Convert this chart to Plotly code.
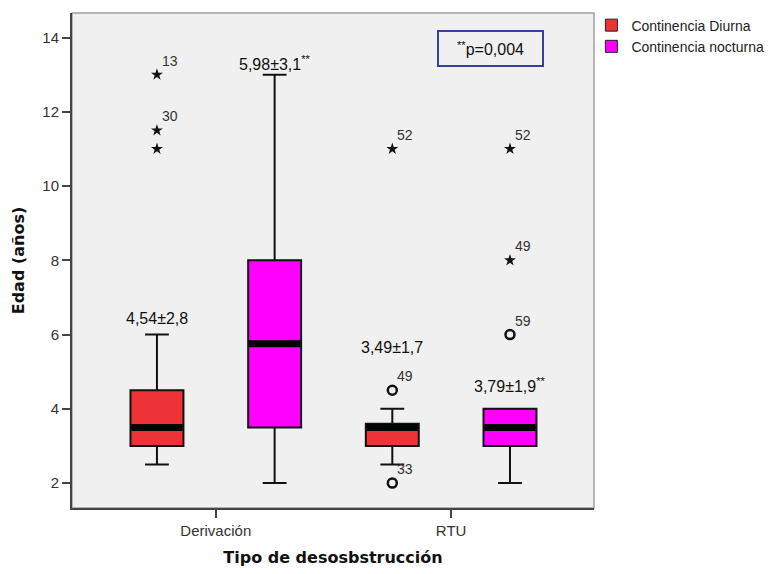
import plotly.graph_objects as go

# Categories and series
groups = ["Derivación", "RTU"]
series = ["Continencia Diurna", "Continencia nocturna"]
series_colors = ["#EE3338", "#FF00FF"]
series_offset = [-0.25, 0.25]

# Box statistics, one value per group (Derivación, RTU)
diurna_q1 = [3.0, 3.0]
diurna_median = [3.5, 3.5]
diurna_q3 = [4.5, 3.6]
diurna_low = [2.5, 2.5]
diurna_high = [6.0, 4.0]

nocturna_q1 = [3.5, 3.0]
nocturna_median = [5.75, 3.5]
nocturna_q3 = [8.0, 4.0]
nocturna_low = [2.0, 2.0]
nocturna_high = [13.0, 4.0]

# Outlying cases: group index, series index, age, kind, case number
out_group = [0, 0, 0, 1, 1, 1, 1, 1, 1]
out_series = [0, 0, 0, 0, 0, 0, 1, 1, 1]
out_value = [13.0, 11.5, 11.0, 11.0, 4.5, 2.0, 11.0, 8.0, 6.0]
out_kind = ["extreme", "extreme", "extreme", "extreme", "outlier", "outlier",
            "extreme", "extreme", "outlier"]
out_case = ["13", "30", "", "52", "49", "33", "52", "49", "59"]

# Mean ± SD labels and their heights
diurna_label = ["4,54±2,8", "3,49±1,7"]
diurna_label_y = [6.44, 5.66]
nocturna_label = ["5,98±3,1<sup>**</sup>", "3,79±1,9<sup>**</sup>"]
nocturna_label_y = [13.32, 4.63]

y_ticks = [2, 4, 6, 8, 10, 12, 14]

box_width = 0.225
half = box_width / 2

stats = [
    (diurna_q1, diurna_median, diurna_q3, diurna_low, diurna_high),
    (nocturna_q1, nocturna_median, nocturna_q3, nocturna_low, nocturna_high),
]

fig = go.Figure()

for s, (q1, med, q3, lo, hi) in enumerate(stats):
    pos = [g + series_offset[s] for g in range(len(groups))]
    fig.add_trace(go.Box(
        x=pos, q1=q1, median=med, q3=q3, lowerfence=lo, upperfence=hi,
        width=box_width, whiskerwidth=0.45,
        fillcolor=series_colors[s],
        line=dict(color="#111111", width=2),
        boxpoints=False, showlegend=False, hoverinfo="skip",
    ))
    # thick median bars
    for p, m in zip(pos, med):
        fig.add_trace(go.Scatter(
            x=[p - half + 0.004, p + half - 0.004], y=[m, m], mode="lines",
            line=dict(color="#000000", width=7),
            showlegend=False, hoverinfo="skip",
        ))

# outliers (circles) and extreme values (stars)
for kind, symbol, size, lw in [("outlier", "circle-open", 9, 2.5),
                               ("extreme", "star", 9, 0)]:
    xs, ys = [], []
    for g, s, v, k in zip(out_group, out_series, out_value, out_kind):
        if k == kind:
            xs.append(g + series_offset[s])
            ys.append(v)
    fig.add_trace(go.Scatter(
        x=xs, y=ys, mode="markers",
        marker=dict(symbol=symbol, size=size, color="#111111",
                    line=dict(color="#111111", width=lw)),
        showlegend=False, hoverinfo="skip",
    ))

# case numbers next to outlying points
for g, s, v, c in zip(out_group, out_series, out_value, out_case):
    if c:
        fig.add_annotation(
            x=g + series_offset[s], y=v, text=c, showarrow=False,
            xshift=13, yshift=14,
            font=dict(family="Liberation Sans, Arial", size=14, color="#333333"),
        )

# mean ± SD labels
for s, (labels, ys) in enumerate([(diurna_label, diurna_label_y),
                                  (nocturna_label, nocturna_label_y)]):
    for g, (t, yv) in enumerate(zip(labels, ys)):
        fig.add_annotation(
            x=g + series_offset[s], y=yv, text=t, showarrow=False,
            font=dict(family="Liberation Sans, Arial", size=16, color="#111111"),
        )

# p-value box
fig.add_annotation(
    xref="paper", yref="paper", x=0.8017, y=0.928,
    xanchor="center", yanchor="middle",
    text="<sup>**</sup>p=0,004", showarrow=False,
    width=101, height=31, borderpad=1,
    bordercolor="#3C3C9C", borderwidth=2,
    font=dict(family="Liberation Sans, Arial", size=16, color="#111111"),
)

# legend entries
for name, col in zip(series, series_colors):
    fig.add_trace(go.Scatter(
        x=[None], y=[None], mode="markers", name=name,
        marker=dict(symbol="square", size=12, color=col,
                    line=dict(color="#222222", width=1)),
    ))

# light frame around the plotting area
fig.add_shape(type="rect", xref="paper", yref="paper", x0=0, x1=1, y0=0, y1=1,
              line=dict(color="#A0A0A0", width=1.5), layer="below")

fig.update_layout(
    width=774, height=574,
    margin=dict(l=72, r=180, t=13, b=66, autoexpand=False),
    paper_bgcolor="#FFFFFF",
    plot_bgcolor="#F0F0F0",
    font=dict(family="Liberation Sans, Arial", color="#333333"),
    legend=dict(x=0.995, xanchor="left", y=1.007, yanchor="top",
                bgcolor="rgba(0,0,0,0)",
                font=dict(family="Liberation Sans, Arial", size=14, color="#222222")),
)

fig.update_xaxes(
    range=[-0.611, 1.607], tickvals=list(range(len(groups))), ticktext=groups,
    showgrid=False, zeroline=False,
    showline=True, linecolor="#444444", linewidth=2,
    ticks="outside", ticklen=8, tickwidth=2, tickcolor="#444444",
    tickfont=dict(family="Liberation Sans, Arial", size=15, color="#333333"),
    title=dict(text="<b>Tipo de desosbstrucción</b>", standoff=14,
               font=dict(family="DejaVu Sans", size=16, color="#111111")),
)
fig.update_yaxes(
    range=[1.33, 14.66], tickvals=y_ticks,
    showgrid=False, zeroline=False,
    showline=True, linecolor="#444444", linewidth=2,
    ticks="outside", ticklen=8, tickwidth=2, tickcolor="#444444",
    tickfont=dict(family="Liberation Sans, Arial", size=15, color="#333333"),
    title=dict(text="<b>Edad (años)</b>", standoff=14,
               font=dict(family="DejaVu Sans", size=16, color="#111111")),
)

fig.write_html("out.html")
